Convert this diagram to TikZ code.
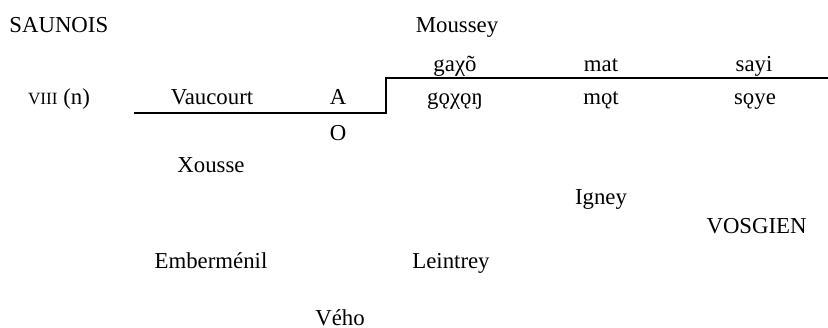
\documentclass[tikz,border=0pt]{standalone}
\usepackage{fontspec}
\setmainfont{Liberation Serif}
\begin{document}
\begin{tikzpicture}[x=0.5pt,y=-0.5pt,
  lbl/.style={anchor=base,inner sep=0pt,font=\fontsize{11.4}{13}\selectfont},
  rule/.style={line width=1.2pt,line cap=rect}]
\useasboundingbox (0,0) rectangle (828,327);
% region labels
\node[lbl,anchor=base west] (saunois) at (9,32) {SAUNOIS};
\node[lbl,anchor=base east] (vosgien) at (807,233) {VOSGIEN};
% period label
\node[lbl] (period) at (59,104) {{\fontsize{8.6}{10}\selectfont VIII} (n)};
% localities and forms
\node[lbl] (vaucourt) at (212,104) {Vaucourt};
\node[lbl] (formA) at (338,104) {A};
\node[lbl] (formO) at (338,140) {O};
\node[lbl] (moussey) at (457,32) {Moussey};
\node[lbl] (gaxo) at (455,71) {gaχõ};
\node[lbl] (mat) at (601,71) {mat};
\node[lbl] (sayi) at (754,71) {sayi};
\node[lbl] (goxon) at (455,104) {gǫχǫŋ};
\node[lbl] (mot) at (601,104) {mǫt};
\node[lbl] (soye) at (755,104) {sǫye};
\node[lbl] (xousse) at (211,172) {Xousse};
\node[lbl] (igney) at (601,204) {Igney};
\node[lbl] (emberm) at (211,268) {Emberménil};
\node[lbl] (leintrey) at (451,268) {Leintrey};
\node[lbl] (veho) at (340,325) {Vého};
% isogloss boundary
\coordinate (bL) at (135,113);
\coordinate (bR) at (386,113);
\coordinate (tL) at (386,78);
\coordinate (tR) at (828,78);
\draw[rule] (bL) -- (bR) -- (tL) -- (tR);
\end{tikzpicture}
\end{document}
